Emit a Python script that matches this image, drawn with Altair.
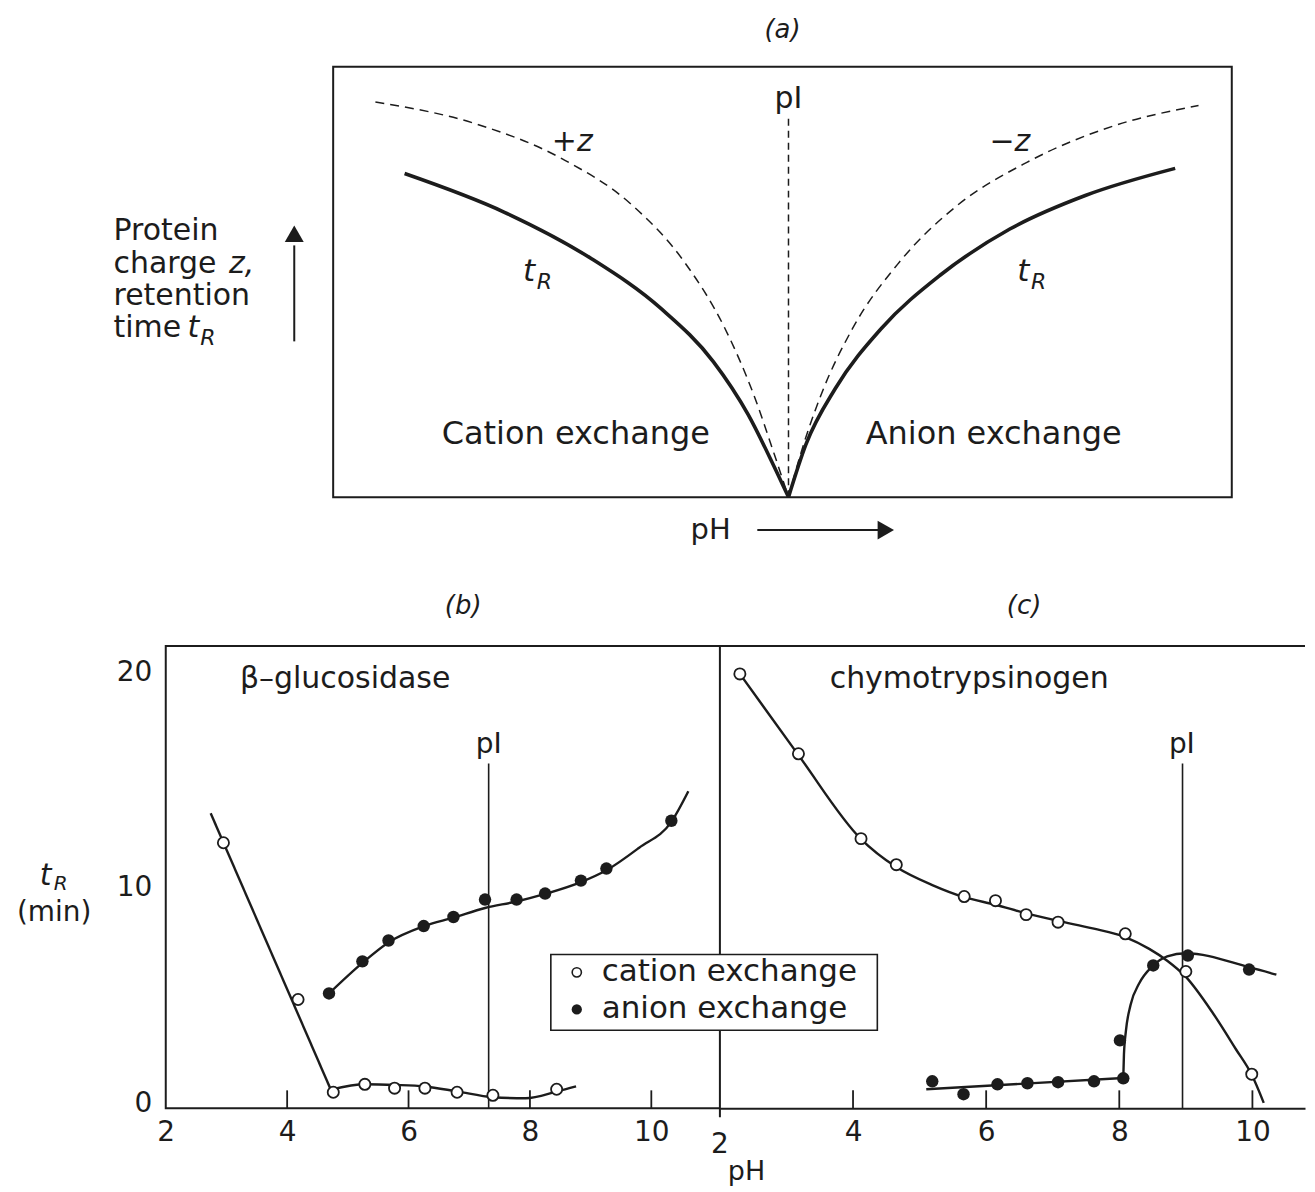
import altair as alt
import pandas as pd

FONT = "DejaVu Sans"
INK = "#1c1c1c"

# ---------------- panel (a): schematic; the frame spans 0..100 on both axes ----------------
A_TR_LEFT_X = [7.95, 19.06, 28.75, 36.5, 42.3, 46.2, 48.8, 50.67]
A_TR_LEFT_Y = [75.2, 66.2, 55.4, 43.8, 31.5, 19.1, 8.3, 0.0]
A_Z_LEFT_X = [4.7, 15.8, 25.5, 33.3, 39.1, 43.6, 46.8, 49.1, 50.67]
A_Z_LEFT_Y = [91.8, 86.8, 78.6, 67.8, 54.6, 39.2, 23.8, 9.9, 0.0]
A_Z_RIGHT_X = [50.67, 52.0, 54.3, 57.8, 63.0, 69.4, 77.2, 86.9, 96.3]
A_Z_RIGHT_Y = [0.0, 9.9, 23.8, 39.2, 54.6, 67.7, 77.8, 86.3, 91.0]
A_TR_RIGHT_X = [50.67, 52.6, 55.9, 61.0, 67.5, 75.3, 83.7, 93.7]
A_TR_RIGHT_Y = [0.0, 12.2, 25.3, 39.2, 51.5, 62.3, 70.1, 76.4]
A_PI_X = 50.67
A_PI_TOP = 88.4
A_FRAME = [0, 100]
A_XDOM = [-18.63, 108.26]
A_YDOM = [0, 100]

A_BIG_T = ["Cation exchange", "Anion exchange"]
A_BIG_X = [27.0, 73.5]
A_BIG_Y = [14.6, 14.6]
A_PI_T = ["pI"]
A_PI_LX = [50.67]
A_PI_LY = [92.6]
A_Z_T = ["+z", "\u2212z"]
A_Z_X = [26.6, 75.3]
A_Z_Y = [82.6, 82.6]
A_T_X = [21.8, 76.8]
A_T_Y = [52.4, 52.4]
A_R_X = [23.5, 78.5]
A_R_Y = [50.0, 50.0]
A_TITLE_T = ["(a)"]
A_TITLE_X = [50.0]
A_TITLE_Y = [108.6]
A_SIDE_T = ["Protein", "charge", "retention", "time"]
A_SIDE_X = [-24.44, -24.44, -24.44, -24.44]
A_SIDE_Y = [61.95, 54.29, 46.64, 39.21]
A_SIDE_IT_T = ["z,", "t"]
A_SIDE_IT_X = [-11.6, -16.2]
A_SIDE_IT_Y = [54.29, 39.21]
A_SIDE_R = [(-14.8, 37.0)]
A_VARROW = (-4.33, 36.2, 58.5, 61.2)      # x, y-from, y-to, head
A_HARROW = (-7.66, 47.2, 60.9, 61.5)      # y, x-from, x-to, head
A_PH_LABEL = (42.0, -7.66)

# ---------------- panel (b): beta-glucosidase ----------------
B_XDOM = [2, 11.13]
B_YDOM = [0, 21.47]
B_XLABELS = [2, 4, 6, 8, 10]
B_XTICKS = [4, 6, 8, 10]
B_YLABELS = [0, 10, 20]
B_CAT_PH = [2.95, 4.18, 4.76, 5.28, 5.77, 6.27, 6.80, 7.39, 8.44]
B_CAT_TR = [12.33, 5.05, 0.74, 1.11, 0.93, 0.93, 0.74, 0.60, 0.88]
B_AN_PH = [4.69, 5.24, 5.67, 6.25, 6.74, 7.26, 7.78, 8.25, 8.84, 9.26, 10.33]
B_AN_TR = [5.33, 6.82, 7.79, 8.46, 8.88, 9.69, 9.69, 9.97, 10.57, 11.13, 13.35]
B_CAT_FIT1_PH = [2.74, 4.72]
B_CAT_FIT1_TR = [13.7, 0.86]
B_CAT_FIT2_PH = [4.72, 5.29, 5.78, 6.27, 6.80, 7.39, 7.93, 8.45, 8.76]
B_CAT_FIT2_TR = [0.86, 1.11, 1.08, 1.01, 0.78, 0.51, 0.46, 0.78, 1.01]
B_AN_FIT_PH = [4.69, 5.24, 5.67, 6.25, 6.74, 7.26, 7.78, 8.25, 8.84, 9.26, 9.80, 10.33, 10.61]
B_AN_FIT_TR = [5.33, 6.75, 7.70, 8.45, 8.85, 9.30, 9.60, 9.95, 10.50, 11.05, 12.10, 13.30, 14.72]
B_PI = 7.32
B_PI_TOP = 16.01

# ---------------- panel (c): chymotrypsinogen ----------------
C_XDOM = [2, 10.79]
C_XLABELS = [4, 6, 8, 10]
C_XTICKS = [4, 6, 8, 10]
C_CAT_PH = [2.30, 3.18, 4.12, 4.65, 5.67, 6.14, 6.60, 7.08, 8.09, 9.00, 9.99]
C_CAT_TR = [20.17, 16.46, 12.52, 11.31, 9.83, 9.64, 8.99, 8.64, 8.10, 6.35, 1.58]
C_AN_PH = [5.19, 5.66, 6.17, 6.62, 7.08, 7.62, 8.06, 8.01, 8.51, 9.03, 9.95]
C_AN_TR = [1.25, 0.65, 1.11, 1.16, 1.21, 1.25, 1.39, 3.15, 6.63, 7.09, 6.44]
C_CAT_FIT_PH = [2.30, 3.18, 4.12, 4.65, 5.20, 5.67, 6.14, 6.60, 7.08, 7.60, 8.09, 8.45, 8.72, 9.00, 9.41, 9.75, 9.99, 10.17]
C_CAT_FIT_TR = [20.17, 16.40, 12.50, 11.20, 10.35, 9.80, 9.45, 9.05, 8.70, 8.35, 7.95, 7.40, 6.85, 6.10, 4.40, 2.75, 1.55, 0.25]
C_AN_FIT1_PH = [5.10, 8.06]
C_AN_FIT1_TR = [0.88, 1.40]
C_AN_FIT2_PH = [8.06, 8.07, 8.10, 8.17, 8.30, 8.50, 8.72, 9.00, 9.95, 10.36]
C_AN_FIT2_TR = [1.40, 2.50, 3.60, 4.80, 5.80, 6.60, 7.05, 7.20, 6.55, 6.20]
C_PI = 8.95
C_PI_TOP = 16.01

LEGEND_T = ["cation exchange", "anion exchange"]


def scl(d):
    return alt.Scale(domain=d, nice=False, zero=False)


def df_xy(xs, ys, **extra):
    d = {"x": list(xs), "y": list(ys)}
    d.update(extra)
    return pd.DataFrame(d)


def text_layer(texts, xs, ys, X, Y, size, italic=False, align="center"):
    df = pd.DataFrame({"x": xs, "y": ys, "t": texts})
    return alt.Chart(df).mark_text(
        font=FONT, fontSize=size, fontStyle="italic" if italic else "normal",
        align=align, baseline="middle", color=INK
    ).encode(x=X, y=Y, text="t:N")


# =========================== panel (a) ===========================
XA = alt.X("x:Q", scale=scl(A_XDOM), axis=None)
YA = alt.Y("y:Q", scale=scl(A_YDOM), axis=None)

a_frame = alt.Chart(pd.DataFrame({"x": [A_FRAME[0]], "x2": [A_FRAME[1]],
                                  "y": [A_FRAME[0]], "y2": [A_FRAME[1]]})).mark_rect(
    fill="white", fillOpacity=0, stroke=INK, strokeWidth=2
).encode(x=XA, x2="x2:Q", y=YA, y2="y2:Q")

a_dash = alt.Chart(pd.concat([df_xy(A_Z_LEFT_X, A_Z_LEFT_Y, c="l"),
                              df_xy(A_Z_RIGHT_X, A_Z_RIGHT_Y, c="r")])).mark_line(
    interpolate="monotone", color=INK, strokeWidth=1.5, strokeDash=[9, 6]
).encode(x=XA, y=YA, detail="c:N")

a_solid = alt.Chart(pd.concat([df_xy(A_TR_LEFT_X, A_TR_LEFT_Y, c="l"),
                               df_xy(A_TR_RIGHT_X, A_TR_RIGHT_Y, c="r")])).mark_line(
    interpolate="monotone", color=INK, strokeWidth=3.6
).encode(x=XA, y=YA, detail="c:N")

a_pi = alt.Chart(pd.DataFrame({"x": [A_PI_X], "y": [0], "y2": [A_PI_TOP]})).mark_rule(
    color=INK, strokeWidth=1.5, strokeDash=[7, 5]
).encode(x=XA, y=YA, y2="y2:Q")

a_vline = alt.Chart(pd.DataFrame({"x": [A_VARROW[0]], "y": [A_VARROW[1]], "y2": [A_VARROW[2]]})).mark_rule(
    color=INK, strokeWidth=2
).encode(x=XA, y=YA, y2="y2:Q")
a_vhead = alt.Chart(df_xy([A_VARROW[0]], [A_VARROW[3]])).mark_point(
    shape="triangle-up", filled=True, size=360, color=INK, opacity=1
).encode(x=XA, y=YA)
a_hline = alt.Chart(pd.DataFrame({"x": [A_HARROW[1]], "x2": [A_HARROW[2]], "y": [A_HARROW[0]]})).mark_rule(
    color=INK, strokeWidth=2
).encode(x=XA, x2="x2:Q", y=YA)
a_hhead = alt.Chart(df_xy([A_HARROW[3]], [A_HARROW[0]])).mark_point(
    shape="triangle-right", filled=True, size=360, color=INK, opacity=1
).encode(x=XA, y=YA)

top = alt.layer(
    a_frame, a_dash, a_solid, a_pi,
    text_layer(A_BIG_T, A_BIG_X, A_BIG_Y, XA, YA, 32),
    text_layer(A_PI_T, A_PI_LX, A_PI_LY, XA, YA, 30),
    text_layer(A_Z_T, A_Z_X, A_Z_Y, XA, YA, 30, italic=True),
    text_layer(["t", "t"], A_T_X, A_T_Y, XA, YA, 31, italic=True),
    text_layer(["R", "R"], A_R_X, A_R_Y, XA, YA, 22, italic=True),
    text_layer(A_TITLE_T, A_TITLE_X, A_TITLE_Y, XA, YA, 26, italic=True),
    text_layer(A_SIDE_T, A_SIDE_X, A_SIDE_Y, XA, YA, 30, align="left"),
    text_layer(A_SIDE_IT_T, A_SIDE_IT_X, A_SIDE_IT_Y, XA, YA, 30, italic=True, align="left"),
    text_layer(["R"], [A_SIDE_R[0][0]], [A_SIDE_R[0][1]], XA, YA, 22, italic=True, align="left"),
    text_layer(["pH"], [A_PH_LABEL[0]], [A_PH_LABEL[1]], XA, YA, 29),
    a_vline, a_vhead, a_hline, a_hhead,
).properties(width=1142, height=431, view=alt.ViewBackground(stroke="transparent"))


# =========================== panel (b) ===========================
def axis_common(**kw):
    return alt.Axis(title=None, ticks=False, domain=False, grid=False, labelFont=FONT,
                    labelFontSize=28, labelColor=INK, labelFlush=False,
                    labelOverlap=False, labelBound=False, **kw)


XB = alt.X("x:Q", scale=scl(B_XDOM), axis=axis_common(values=B_XLABELS, labelPadding=10))
YB = alt.Y("y:Q", scale=scl(B_YDOM), axis=axis_common(values=B_YLABELS, labelPadding=14, labelOffset=-5))

b_ticks = alt.Chart(pd.DataFrame({"x": B_XTICKS, "y": [0] * len(B_XTICKS), "y2": [0.83] * len(B_XTICKS)})).mark_rule(
    color=INK, strokeWidth=1.8).encode(x=XB, y=YB, y2="y2:Q")
b_pi = alt.Chart(pd.DataFrame({"x": [B_PI], "y": [0], "y2": [B_PI_TOP]})).mark_rule(
    color=INK, strokeWidth=1.6).encode(x=XB, y=YB, y2="y2:Q")
b_fit_lin = alt.Chart(df_xy(B_CAT_FIT1_PH, B_CAT_FIT1_TR)).mark_line(
    color=INK, strokeWidth=2.4).encode(x=XB, y=YB)
b_fit_mono = alt.Chart(pd.concat([df_xy(B_CAT_FIT2_PH, B_CAT_FIT2_TR, c="cat"),
                                  df_xy(B_AN_FIT_PH, B_AN_FIT_TR, c="an")])).mark_line(
    interpolate="monotone", color=INK, strokeWidth=2.4).encode(x=XB, y=YB, detail="c:N")
b_cat = alt.Chart(df_xy(B_CAT_PH, B_CAT_TR)).mark_point(
    shape="circle", filled=True, fill="white", stroke=INK, strokeWidth=1.8, size=125, opacity=1
).encode(x=XB, y=YB)
b_an = alt.Chart(df_xy(B_AN_PH, B_AN_TR)).mark_circle(
    color=INK, size=155, opacity=1).encode(x=XB, y=YB)

bottom_b = alt.layer(
    b_ticks, b_pi, b_fit_lin, b_fit_mono, b_cat, b_an,
    text_layer(["pI"], [B_PI], [16.85], XB, YB, 28),
    text_layer(["\u03b2\u2013glucosidase"], [4.956], [19.94], XB, YB, 30),
    text_layer(["(b)"], [6.90], [23.32], XB, YB, 26, italic=True),
    text_layer(["t"], [0.021], [10.78], XB, YB, 30, italic=True),
    text_layer(["R"], [0.27], [10.40], XB, YB, 20, italic=True),
    text_layer(["(min)"], [0.161], [9.05], XB, YB, 28),
).properties(width=555, height=463, view=alt.ViewBackground(stroke=INK, strokeWidth=2))

# =========================== panel (c) ===========================
XC = alt.X("x:Q", scale=scl(C_XDOM),
           axis=alt.Axis(values=C_XLABELS, title=None, ticks=False, domain=True, domainColor=INK,
                         domainWidth=2, grid=False, labelFont=FONT, labelFontSize=28, labelColor=INK,
                         labelPadding=10, labelFlush=False, labelOverlap=False, labelBound=False))
YC = alt.Y("y:Q", scale=scl(B_YDOM), axis=None)

c_top = alt.Chart(pd.DataFrame({"x": [C_XDOM[0]], "x2": [C_XDOM[1]], "y": [B_YDOM[1]]})).mark_rule(
    color=INK, strokeWidth=2).encode(x=XC, x2="x2:Q", y=YC)
c_ticks = alt.Chart(pd.DataFrame({"x": C_XTICKS, "y": [0] * len(C_XTICKS), "y2": [0.83] * len(C_XTICKS)})).mark_rule(
    color=INK, strokeWidth=1.8).encode(x=XC, y=YC, y2="y2:Q")
c_tick2 = alt.Chart(pd.DataFrame({"x": [2], "y": [-0.42], "y2": [0]})).mark_rule(
    color=INK, strokeWidth=2).encode(x=XC, y=YC, y2="y2:Q")
c_pi = alt.Chart(pd.DataFrame({"x": [C_PI], "y": [0], "y2": [C_PI_TOP]})).mark_rule(
    color=INK, strokeWidth=1.6).encode(x=XC, y=YC, y2="y2:Q")
c_fit_lin = alt.Chart(df_xy(C_AN_FIT1_PH, C_AN_FIT1_TR)).mark_line(
    color=INK, strokeWidth=2.4).encode(x=XC, y=YC)
c_fit_mono = alt.Chart(pd.concat([df_xy(C_CAT_FIT_PH, C_CAT_FIT_TR, c="cat"),
                                  df_xy(C_AN_FIT2_PH, C_AN_FIT2_TR, c="an")])).mark_line(
    interpolate="monotone", color=INK, strokeWidth=2.4).encode(x=XC, y=YC, detail="c:N")
c_cat = alt.Chart(df_xy(C_CAT_PH, C_CAT_TR)).mark_point(
    shape="circle", filled=True, fill="white", stroke=INK, strokeWidth=1.8, size=125, opacity=1
).encode(x=XC, y=YC)
c_an = alt.Chart(df_xy(C_AN_PH, C_AN_TR)).mark_circle(
    color=INK, size=155, opacity=1).encode(x=XC, y=YC)

leg_box = alt.Chart(pd.DataFrame({"x": [-0.54], "x2": [4.365], "y": [3.62], "y2": [7.14]})).mark_rect(
    fill="white", stroke=INK, strokeWidth=1.6).encode(x=XC, x2="x2:Q", y=YC, y2="y2:Q")
leg_open = alt.Chart(df_xy([-0.15], [6.31])).mark_point(
    shape="circle", filled=True, fill="white", stroke=INK, strokeWidth=1.6, size=85, opacity=1
).encode(x=XC, y=YC)
leg_fill = alt.Chart(df_xy([-0.15], [4.59])).mark_circle(color=INK, size=105, opacity=1).encode(x=XC, y=YC)

bottom_c = alt.layer(
    c_top, c_ticks, c_tick2, c_pi, c_fit_lin, c_fit_mono, c_cat, c_an,
    text_layer(["pI"], [8.94], [16.85], XC, YC, 28),
    text_layer(["chymotrypsinogen"], [5.745], [19.94], XC, YC, 30),
    text_layer(["(c)"], [6.57], [23.32], XC, YC, 26, italic=True),
    text_layer(["2"], [2.0], [-1.72], XC, YC, 28),
    text_layer(["pH"], [2.40], [-2.95], XC, YC, 27),
    leg_box, leg_open, leg_fill,
    text_layer(LEGEND_T, [0.225, 0.225], [6.31, 4.59], XC, YC, 31, align="left"),
).properties(width=586, height=463, view=alt.ViewBackground(stroke="transparent"))

bottom = alt.hconcat(bottom_b, bottom_c, spacing=0, bounds="flush")

chart = alt.vconcat(top, bottom, spacing=149, bounds="flush").properties(
    padding={"left": 7, "top": 7, "right": 0, "bottom": 0}
).configure_view(stroke="transparent").configure(font=FONT)

chart.save("out.html", embed_options={"renderer": "svg", "actions": False})
